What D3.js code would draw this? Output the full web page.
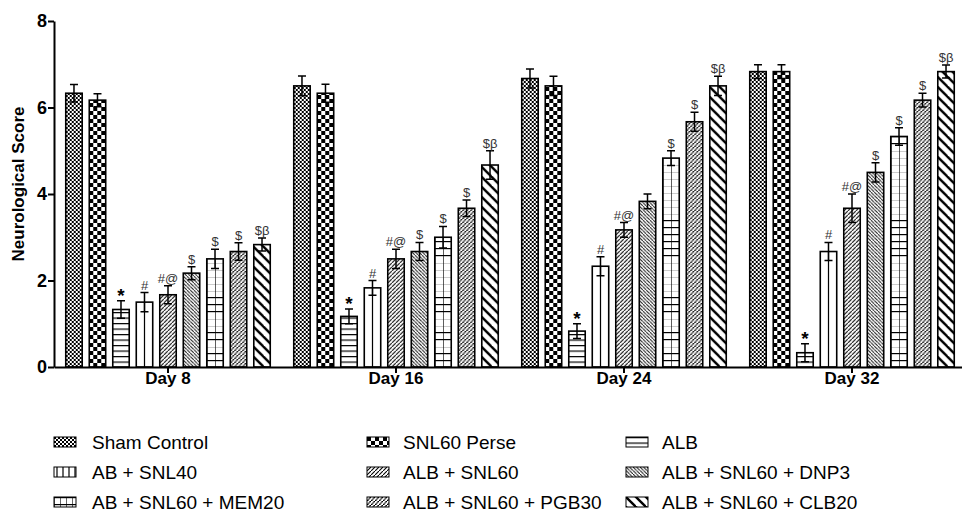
<!DOCTYPE html>
<html>
<head>
<meta charset="utf-8">
<script src="https://cdn.jsdelivr.net/npm/d3@7"></script>
<style>
  body { margin: 0; background: #fff; }
  svg { display: block; font-family: "Liberation Sans", Arial, sans-serif; }
  .axis path, .axis line { stroke: #000; stroke-width: 2; }
  .axis text { font-weight: bold; fill: #000; }
</style>
</head>
<body>
<svg width="962" height="513"></svg>
<script>
// days on the x axis
var days = ["Day 8", "Day 16", "Day 24", "Day 32"];

// treatment groups (bar order)
var groups = ["Sham Control", "SNL60 Perse", "ALB", "AB + SNL40", "ALB + SNL60",
  "ALB + SNL60 + DNP3", "AB + SNL60 + MEM20", "ALB + SNL60 + PGB30", "ALB + SNL60 + CLB20"];

// mean neurological score, one array per group, by day
var shamControl = [6.33, 6.50, 6.67, 6.83];
var snl60Perse  = [6.17, 6.33, 6.50, 6.83];
var alb         = [1.33, 1.17, 0.83, 0.33];
var abSnl40     = [1.50, 1.83, 2.33, 2.67];
var albSnl60    = [1.67, 2.50, 3.17, 3.67];
var albDnp3     = [2.17, 2.67, 3.83, 4.50];
var abMem20     = [2.50, 3.00, 4.83, 5.33];
var albPgb30    = [2.67, 3.67, 5.67, 6.17];
var albClb20    = [2.83, 4.67, 6.50, 6.83];

// SEM, same order
var shamErr  = [0.20, 0.23, 0.22, 0.16];
var perseErr = [0.15, 0.21, 0.22, 0.16];
var albErr   = [0.20, 0.17, 0.17, 0.21];
var ab40Err  = [0.22, 0.17, 0.22, 0.21];
var alb60Err = [0.21, 0.22, 0.17, 0.33];
var dnp3Err  = [0.15, 0.21, 0.17, 0.22];
var mem20Err = [0.22, 0.25, 0.17, 0.20];
var pgb30Err = [0.20, 0.19, 0.22, 0.16];
var clb20Err = [0.15, 0.33, 0.22, 0.15];

// significance marks
var shamSig  = ["", "", "", ""];
var perseSig = ["", "", "", ""];
var albSig   = ["*", "*", "*", "*"];
var ab40Sig  = ["#", "#", "#", "#"];
var alb60Sig = ["#@", "#@", "#@", "#@"];
var dnp3Sig  = ["$", "$", "", "$"];
var mem20Sig = ["$", "$", "$", "$"];
var pgb30Sig = ["$", "$", "$", "$"];
var clb20Sig = ["$\u03b2", "$\u03b2", "$\u03b2", "$\u03b2"];

var yTicks = [0, 2, 4, 6, 8];

var means = [shamControl, snl60Perse, alb, abSnl40, albSnl60, albDnp3, abMem20, albPgb30, albClb20];
var errs = [shamErr, perseErr, albErr, ab40Err, alb60Err, dnp3Err, mem20Err, pgb30Err, clb20Err];
var sigs = [shamSig, perseSig, albSig, ab40Sig, alb60Sig, dnp3Sig, mem20Sig, pgb30Sig, clb20Sig];
var fills = ["fine", "checker", "hlines", "vlines", "fwd", "back", "grid", "pgb", "thick"];

var svg = d3.select("svg");
var defs = svg.append("defs");

var x0 = d3.scaleBand().domain(days).range([54, 966]);
var x1 = d3.scaleBand().domain(d3.range(groups.length))
    .range([0, x0.bandwidth()]).paddingInner(0.3).paddingOuter(0.5);
var y = d3.scaleLinear().domain([0, 8]).range([367, 21]);

// pattern anchored at the left/bottom of the shape that uses it
function addPattern(id, type, px, py, w) {
  var p = defs.append("pattern").attr("id", id)
      .attr("patternUnits", "userSpaceOnUse").attr("x", px).attr("y", py);
  function line(a, b, c, d, sw) {
    return p.append("line").attr("x1", a).attr("y1", b).attr("x2", c).attr("y2", d)
      .attr("stroke", "#000").attr("stroke-width", sw);
  }
  p.append("rect").attr("width", 40).attr("height", 40).attr("fill", "#fff");
  if (type === "fine") {
    p.attr("width", 4).attr("height", 4);
    p.append("rect").attr("width", 2).attr("height", 2);
    p.append("rect").attr("x", 2).attr("y", 2).attr("width", 2).attr("height", 2);
  } else if (type === "checker") {
    p.attr("width", 8).attr("height", 8);
    p.append("rect").attr("width", 4).attr("height", 4);
    p.append("rect").attr("x", 4).attr("y", 4).attr("width", 4).attr("height", 4);
  } else if (type === "hlines") {
    p.attr("width", 10).attr("height", 5.5);
    line(0, 0.6, 10, 0.6, 1.2);
  } else if (type === "vlines") {
    p.attr("width", w).attr("height", 10);
    line(w / 2, 0, w / 2, 10, 1.2);
  } else if (type === "grid") {
    p.attr("width", w / 2).attr("height", 7);
    line(0, 0, 0, 7, 1.2);
    line(0, 0.6, w / 2, 0.6, 1.2);
  } else if (type === "fwd") {
    p.attr("width", 4).attr("height", 4);
    line(-1, 5, 5, -1, 1.1);
  } else if (type === "back") {
    p.attr("width", 3.5).attr("height", 3.5);
    line(-1, -1, 4.5, 4.5, 0.9);
  } else if (type === "pgb") {
    p.attr("width", 4).attr("height", 4);
    line(-1, 5, 5, -1, 1.5);
    line(0, 2, 4, 2, 0.7).attr("stroke", "#fff");
  } else if (type === "thick") {
    p.attr("width", 10).attr("height", 10);
    line(-2, -2, 12, 12, 2.4);
    line(-12, -2, 2, 12, 2.4);
    line(8, -2, 22, 12, 2.4);
  }
}

var bw = x1.bandwidth();

// bars
var dayG = svg.selectAll(".day").data(days).enter().append("g")
    .attr("class", "day")
    .attr("transform", function(d) { return "translate(" + x0(d) + ",0)"; });

var bars = dayG.selectAll(".bar")
    .data(function(d, di) {
      return groups.map(function(g, gi) {
        return { day: di, g: gi, v: means[gi][di], e: errs[gi][di], s: sigs[gi][di] };
      });
    })
  .enter().append("g").attr("class", "bar");

bars.each(function(d) {
  // pattern space is the bar's own user space (inside the day group)
  addPattern("p" + d.day + "-" + d.g, fills[d.g], x1(d.g), y(0), bw);
});

bars.append("rect")
    .attr("x", function(d) { return x1(d.g); })
    .attr("y", function(d) { return y(d.v); })
    .attr("width", bw)
    .attr("height", function(d) { return y(0) - y(d.v); })
    .attr("fill", function(d) { return "url(#p" + d.day + "-" + d.g + ")"; })
    .attr("stroke", "#000")
    .attr("stroke-width", 1.6);

// error bars
var cap = 4;
bars.append("path")
    .attr("fill", "none")
    .attr("stroke", "#000")
    .attr("stroke-width", 1.5)
    .attr("d", function(d) {
      var cx = x1(d.g) + bw / 2, hi = y(d.v + d.e), lo = y(d.v - d.e);
      return "M" + cx + "," + hi + "V" + lo +
        "M" + (cx - cap) + "," + hi + "H" + (cx + cap) +
        "M" + (cx - cap) + "," + lo + "H" + (cx + cap);
    });

bars.filter(function(d) { return d.s !== ""; })
  .append("text")
    .attr("x", function(d) { return x1(d.g) + bw / 2; })
    .attr("y", function(d) { return y(d.v + d.e) + (d.s === "*" ? 1 : -3); })
    .attr("text-anchor", "middle")
    .attr("fill", function(d) { return d.s === "*" ? "#000" : "#333"; })
    .style("font-size", function(d) { return d.s === "*" ? "19px" : "13px"; })
    .style("font-weight", function(d) { return d.s === "*" ? "bold" : "normal"; })
    .text(function(d) { return d.s; });

// axes
svg.append("g")
    .attr("class", "axis")
    .attr("transform", "translate(0," + y(0) + ")")
    .call(d3.axisBottom(x0).tickSize(6).tickSizeOuter(0).tickPadding(-1))
    .selectAll("text").style("font-size", "17px");

svg.append("g")
    .attr("class", "axis")
    .attr("transform", "translate(54,0)")
    .call(d3.axisLeft(y).tickValues(yTicks).tickSize(6).tickSizeOuter(0).tickPadding(1))
    .selectAll("text").style("font-size", "18px");

svg.append("text")
    .attr("transform", "translate(24,184) rotate(-90)")
    .attr("text-anchor", "middle")
    .style("font-size", "17px")
    .style("font-weight", "bold")
    .text("Neurological Score");

// legend
var legX = [54, 367, 626], legTx = [92, 403, 662], legY = [442, 472, 502];
var leg = svg.selectAll(".leg").data(groups).enter().append("g").attr("class", "leg");

leg.each(function(d, i) {
  var c = i % 3, r = Math.floor(i / 3);
  addPattern("leg" + i, fills[i], legX[c], legY[r] - 5, fills[i] === "vlines" ? 6 : 12);
  d3.select(this).append("rect")
      .attr("x", legX[c]).attr("y", legY[r] - 5)
      .attr("width", 22).attr("height", 10)
      .attr("fill", "url(#leg" + i + ")")
      .attr("stroke", "#000").attr("stroke-width", 1);
  d3.select(this).append("text")
      .attr("x", legTx[c]).attr("y", legY[r])
      .attr("dy", "0.36em")
      .style("font-size", "19px")
      .text(d);
});
</script>
</body>
</html>
